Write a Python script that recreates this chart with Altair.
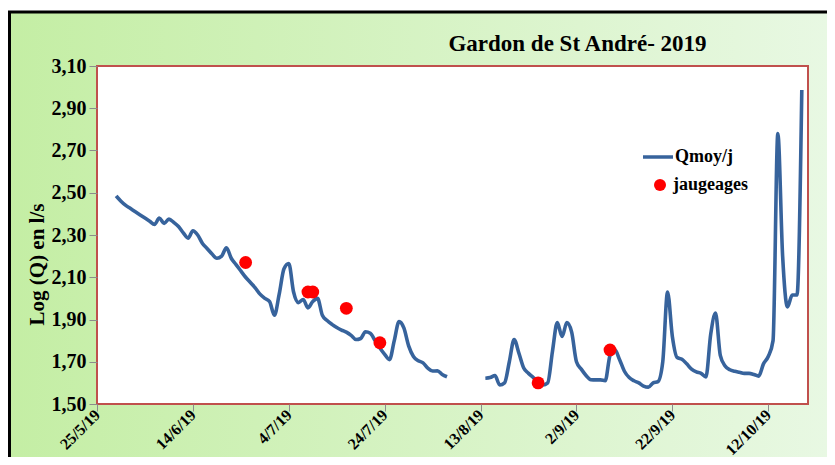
import altair as alt
import pandas as pd

# ---------------- data ----------------
seg1_start = "2019-05-29"
seg1_values = [2.485, 2.46, 2.44, 2.425, 2.41, 2.395, 2.38, 2.365, 2.35, 2.38,
               2.355, 2.375, 2.36, 2.34, 2.31, 2.285, 2.32, 2.30, 2.26, 2.235,
               2.21, 2.19, 2.20, 2.24, 2.19, 2.16, 2.13, 2.10, 2.075, 2.05,
               2.02, 2.00, 1.985, 1.92, 2.02, 2.14, 2.165, 2.03, 1.98, 1.995,
               1.955, 1.985, 2.00, 1.92, 1.895, 1.877, 1.862, 1.85, 1.84, 1.825,
               1.805, 1.81, 1.842, 1.835, 1.80, 1.765, 1.735, 1.71, 1.80, 1.89,
               1.86, 1.775, 1.725, 1.705, 1.695, 1.67, 1.656, 1.657, 1.64, 1.629]
seg2_start = "2019-08-14"
seg2_values = [1.622, 1.625, 1.635, 1.59, 1.60, 1.70, 1.805, 1.74, 1.67, 1.645,
               1.625, 1.605, 1.59, 1.60, 1.75, 1.885, 1.82, 1.885, 1.84, 1.70,
               1.665, 1.635, 1.615, 1.614, 1.614, 1.61, 1.73, 1.756, 1.71, 1.655,
               1.625, 1.61, 1.60, 1.585, 1.58, 1.60, 1.606, 1.70, 2.03, 1.82,
               1.72, 1.712, 1.69, 1.665, 1.652, 1.645, 1.628, 1.83, 1.93, 1.73,
               1.68, 1.662, 1.655, 1.650, 1.645, 1.645, 1.640, 1.632, 1.69, 1.725,
               1.80, 2.78, 2.20, 1.96, 2.016, 2.016, 2.986]
gauge_dates = ["2019-06-25", "2019-07-08", "2019-07-09", "2019-07-16",
               "2019-07-23", "2019-08-25", "2019-09-09"]
gauge_values = [2.17, 2.03, 2.03, 1.953, 1.79, 1.60, 1.756]
tick_dates = ["2019-05-25", "2019-06-14", "2019-07-04", "2019-07-24",
              "2019-08-13", "2019-09-02", "2019-09-22", "2019-10-12"]
y_ticks = [1.5, 1.7, 1.9, 2.1, 2.3, 2.5, 2.7, 2.9, 3.1]
x_domain = ["2019-05-25T00:00:00", "2019-10-20T07:00:00"]


def ms(t):
    return int(pd.Timestamp(t, tz="UTC").value // 10**6)


def segment(start, vals, name):
    d = pd.date_range(start, periods=len(vals), freq="D")
    return pd.DataFrame({"date": d.strftime("%Y-%m-%d"), "q": vals,
                         "seg": name, "series": "Qmoy/j"})


line_df = pd.concat([segment(seg1_start, seg1_values, "a"),
                     segment(seg2_start, seg2_values, "b")], ignore_index=True)
gauge_df = pd.DataFrame({"date": gauge_dates, "q": gauge_values, "kind": "jaugeages"})
one = pd.DataFrame({"k": [0]})

W, H = 711, 338
PL, PT, PR, PB = 89, 58, 19, 53
FONT = "Liberation Serif"
BLUE = "#37639c"

bg = alt.Chart(one).mark_rect(
    fill=alt.LinearGradient(
        gradient="linear",
        stops=[alt.GradientStop(color="#c4eea4", offset=0),
               alt.GradientStop(color="#e8f8e3", offset=1)],
        x1=0, x2=1, y1=0, y2=0)
).encode(x=alt.value(-PL), x2=alt.value(W + PR), y=alt.value(-54), y2=alt.value(H + PB))

frame_top = alt.Chart(one).mark_rule(color="black", strokeWidth=3).encode(
    x=alt.value(-PL), x2=alt.value(W + PR), y=alt.value(-54))
frame_left = alt.Chart(one).mark_rule(color="black", strokeWidth=3).encode(
    x=alt.value(-PL + 1.5), y=alt.value(-54), y2=alt.value(H + PB))

plot_bg = alt.Chart(one).mark_rect(fill="white", stroke="#c0504d", strokeWidth=2).encode(
    x=alt.value(0), x2=alt.value(W), y=alt.value(0), y2=alt.value(H))

xscale = alt.Scale(type="utc", domain=[ms(x_domain[0]), ms(x_domain[1])])
yscale = alt.Scale(domain=[1.5, 3.1], nice=False, zero=False)

line = alt.Chart(line_df).mark_line(strokeWidth=3.6, interpolate="monotone").encode(
    x=alt.X("date:T", scale=xscale,
            axis=alt.Axis(values=[ms(t) for t in tick_dates],
                          labelExpr="utcFormat(datum.value, '%-d/%-m/%y')",
                          labelAngle=315, labelAlign="right", labelBaseline="middle",
                          labelFlush=False, labelOverlap=False, labelBound=False,
                          labelFontSize=16,
                          labelPadding=1, tickSize=7, title=None, zindex=2)),
    y=alt.Y("q:Q", scale=yscale,
            axis=alt.Axis(values=y_ticks,
                          labelExpr="replace(format(datum.value, '.2f'), '.', ',')",
                          labelFontSize=20,
                          labelPadding=3, tickSize=8, zindex=2,
                          title="Log (Q) en l/s", titleFontSize=21,
                          titleFontWeight="bold", titleFont=FONT,
                          titleAngle=270, titleX=-60, titleY=198,
                          titleAlign="center", titleBaseline="middle")),
    detail="seg:N",
    stroke=alt.Stroke("series:N",
                      scale=alt.Scale(domain=["Qmoy/j"], range=[BLUE]),
                      legend=alt.Legend(title=None, orient="none", legendX=544, legendY=74,
                                        symbolType="stroke", symbolSize=900,
                                        symbolStrokeWidth=3.5, labelOffset=0,
                                        labelFont=FONT, labelFontSize=18,
                                        labelFontWeight="bold", labelColor="black",
                                        padding=0, zindex=2)),
)

points = alt.Chart(gauge_df).mark_circle(size=165, opacity=1).encode(
    x="date:T",
    y="q:Q",
    fill=alt.Fill("kind:N",
                  scale=alt.Scale(domain=["jaugeages"], range=["#ff0000"]),
                  legend=alt.Legend(title=None, orient="none", legendX=554, legendY=110,
                                    symbolType="circle", symbolSize=144,
                                    symbolStrokeWidth=0, labelOffset=4,
                                    labelFont=FONT, labelFontSize=18,
                                    labelFontWeight="bold", labelColor="black",
                                    padding=0, zindex=2)),
)

chart = alt.layer(bg, frame_top, frame_left, plot_bg, line, points).properties(
    width=W, height=H,
    autosize=alt.AutoSizeParams(type="none"),
    padding={"left": PL, "top": PT, "right": PR, "bottom": PB},
    title=alt.TitleParams(text="Gardon de St André- 2019", font=FONT, fontSize=23,
                          fontWeight="bold", color="black", anchor="middle",
                          dx=125, offset=-45, zindex=2),
).configure_view(stroke=None).configure_axis(
    labelFont=FONT, labelFontSize=15, labelFontWeight="bold", labelColor="black",
    tickColor="#8c8c8c", tickWidth=1, domain=False, grid=False, zindex=2,
    titleColor="black",
)

chart.save("out.html", embed_options={"renderer": "svg", "actions": False})
